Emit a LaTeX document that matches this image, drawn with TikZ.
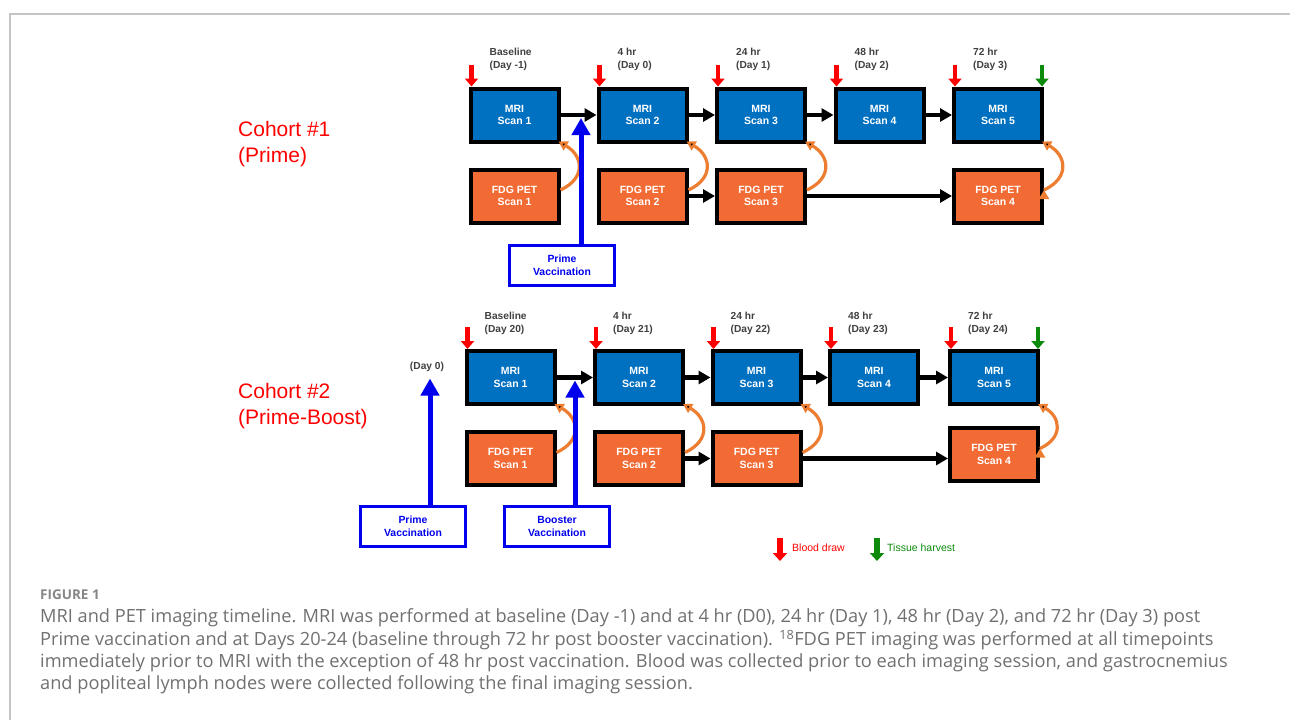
\documentclass[tikz,border=0pt]{standalone}
\usepackage{fontspec}
\setmainfont{Liberation Sans}
\newfontfamily\captionfont{Open Sans}
\usetikzlibrary{positioning, arrows.meta}

\definecolor{mriblue}{HTML}{0070C0}
\definecolor{petorange}{HTML}{F26B35}
\definecolor{curveorange}{HTML}{ED7D31}
\definecolor{vblue}{HTML}{0000EE}
\definecolor{labelgray}{HTML}{404040}
\definecolor{harvgreen}{HTML}{0B8A0B}
\definecolor{framegray}{HTML}{C4C4C4}
\definecolor{capgray}{HTML}{707070}

\begin{document}
\begin{tikzpicture}[x=1pt, y=-1pt, on grid]
                \tikzset{
                    mri/.style={draw=black, line width=4pt, fill=mriblue, text=white, align=center,
                        minimum width=88pt, minimum height=53pt, inner sep=0pt,
                        font=\bfseries\fontsize{10.5}{12.5}\selectfont},
                    pet/.style={mri, fill=petorange},
                    vacc/.style={draw=vblue, line width=3pt, fill=white, text=vblue, align=center,
                        minimum width=105pt, minimum height=40pt, inner sep=0pt,
                        font=\bfseries\fontsize{10.4}{13}\selectfont},
                    tlabel/.style={anchor=west, align=left, inner sep=0pt, text=labelgray,
                        font=\bfseries\fontsize{10.2}{13}\selectfont},
                    cohort/.style={anchor=west, align=left, inner sep=0pt, text=red,
                        font=\fontsize{21}{26}\selectfont},
                    flow/.style={line width=4.5pt, -{Triangle[length=12pt,width=13pt]}},
                    curv/.style={draw=curveorange, line width=3.2pt, -{Triangle[length=9pt,width=10pt]}},
                    vaccarrow/.style={draw=vblue, line width=5pt, -{Triangle[length=17pt,width=18pt]}},
                    blood/.style={draw=red, line width=4.5pt, -{Triangle[length=8pt,width=13pt]}},
                    harvest/.style={blood, draw=harvgreen},
                    legtxt/.style={anchor=west, inner sep=0pt, font=\fontsize{10.5}{12}\selectfont},
                    captxt/.style={anchor=west, inner sep=0pt, text=capgray,
                        font=\captionfont\fontsize{18.2}{20}\selectfont}
                }
                \useasboundingbox (0,0) rectangle (1290,720);

                % FRAME
                \draw[framegray, line width=2pt] (1290,14) -- (9.5,14) -- (9.5,720);

                % COHORT 1
                \node[cohort] (c1) at (238,144) {Cohort \#1\\(Prime)};

                \node[mri] (m11) at (514.5,115) {MRI\\Scan 1};
                \node[mri] (m12) [right=128pt of m11] {MRI\\Scan 2};
                \node[mri] (m13) [right=118.5pt of m12] {MRI\\Scan 3};
                \node[mri] (m14) [right=118.5pt of m13] {MRI\\Scan 4};
                \node[mri] (m15) [right=118.5pt of m14] {MRI\\Scan 5};

                \node[pet] (f11) [below=81pt of m11] {FDG PET\\Scan 1};
                \node[pet] (f12) [below=81pt of m12] {FDG PET\\Scan 2};
                \node[pet] (f13) [below=81pt of m13] {FDG PET\\Scan 3};
                \node[pet] (f14) [below=81pt of m15] {FDG PET\\Scan 4};

                \node[tlabel] (t11) at ([xshift=21pt, yshift=27pt]m11.north west) {Baseline\\(Day -1)};
                \node[tlabel] (t12) at ([xshift=21pt, yshift=27pt]m12.north west) {4 hr\\(Day 0)};
                \node[tlabel] (t13) at ([xshift=21pt, yshift=27pt]m13.north west) {24 hr\\(Day 1)};
                \node[tlabel] (t14) at ([xshift=21pt, yshift=27pt]m14.north west) {48 hr\\(Day 2)};
                \node[tlabel] (t15) at ([xshift=21pt, yshift=27pt]m15.north west) {72 hr\\(Day 3)};

                \node[vacc] (pv1) at (562,265.5) {Prime\\Vaccination};

                % COHORT 1 - TRANSITIONS
                \path[flow]
                    (m11) edge (m12)
                    (m12) edge (m13)
                    (m13) edge (m14)
                    (m14) edge (m15)
                    (f12) edge (f13)
                    (f13) edge (f14);
                \path[curv]
                    ([yshift=6pt]f11.east) edge[out=25, in=-30, looseness=1.5] ([xshift=-2pt, yshift=2pt]m11.south east)
                    ([yshift=6pt]f12.east) edge[out=25, in=-30, looseness=1.5] ([xshift=-2pt, yshift=2pt]m12.south east)
                    ([yshift=6pt]f13.east) edge[out=25, in=-30, looseness=1.5] ([xshift=-2pt, yshift=2pt]m13.south east)
                    ([yshift=6pt]f14.east) edge[out=25, in=-30, looseness=1.5] ([xshift=-2pt, yshift=2pt]m15.south east);
                \draw[vaccarrow] ([xshift=19pt]pv1.north) -- ++(0,-126);

                \draw[blood] ([xshift=3pt, yshift=22pt]m11.north west) -- ([xshift=3pt]m11.north west);
                \draw[blood] ([xshift=3pt, yshift=22pt]m12.north west) -- ([xshift=3pt]m12.north west);
                \draw[blood] ([xshift=3pt, yshift=22pt]m13.north west) -- ([xshift=3pt]m13.north west);
                \draw[blood] ([xshift=3pt, yshift=22pt]m14.north west) -- ([xshift=3pt]m14.north west);
                \draw[blood] ([xshift=3pt, yshift=22pt]m15.north west) -- ([xshift=3pt]m15.north west);
                \draw[harvest] ([xshift=-2pt, yshift=22pt]m15.north east) -- ([xshift=-2pt]m15.north east);

                % COHORT 2
                \node[cohort] (c2) at (238,406.5) {Cohort \#2\\(Prime-Boost)};

                \node[mri] (m21) at (510.5,377.5) {MRI\\Scan 1};
                \node[mri] (m22) [right=128.5pt of m21] {MRI\\Scan 2};
                \node[mri] (m23) [right=117.5pt of m22] {MRI\\Scan 3};
                \node[mri] (m24) [right=117.5pt of m23] {MRI\\Scan 4};
                \node[mri] (m25) [right=120pt of m24] {MRI\\Scan 5};

                \node[pet] (f21) [below=81pt of m21] {FDG PET\\Scan 1};
                \node[pet] (f22) [below=81pt of m22] {FDG PET\\Scan 2};
                \node[pet] (f23) [below=81pt of m23] {FDG PET\\Scan 3};
                \node[pet] (f24) [below=77pt of m25] {FDG PET\\Scan 4};

                \node[tlabel] (t21) at ([xshift=20pt, yshift=25.5pt]m21.north west) {Baseline\\(Day 20)};
                \node[tlabel] (t22) at ([xshift=20pt, yshift=25.5pt]m22.north west) {4 hr\\(Day 21)};
                \node[tlabel] (t23) at ([xshift=20pt, yshift=25.5pt]m23.north west) {24 hr\\(Day 22)};
                \node[tlabel] (t24) at ([xshift=20pt, yshift=25.5pt]m24.north west) {48 hr\\(Day 23)};
                \node[tlabel] (t25) at ([xshift=20pt, yshift=25.5pt]m25.north west) {72 hr\\(Day 24)};

                \node[vacc] (pv2) at (413,526) {Prime\\Vaccination};
                \node[vacc] (bv2) at (557,526) {Booster\\Vaccination};
                \node[tlabel, anchor=center] (d0) at (427,367) {(Day 0)};

                % COHORT 2 - TRANSITIONS
                \path[flow]
                    (m21) edge (m22)
                    (m22) edge (m23)
                    (m23) edge (m24)
                    (m24) edge (m25)
                    (f22) edge (f23)
                    (f23) edge (f23 -| f24.west);
                \path[curv]
                    ([yshift=6pt]f21.east) edge[out=25, in=-30, looseness=1.5] ([xshift=-2pt, yshift=2pt]m21.south east)
                    ([yshift=6pt]f22.east) edge[out=25, in=-30, looseness=1.5] ([xshift=-2pt, yshift=2pt]m22.south east)
                    ([yshift=6pt]f23.east) edge[out=25, in=-30, looseness=1.5] ([xshift=-2pt, yshift=2pt]m23.south east)
                    ([yshift=6pt]f24.east) edge[out=25, in=-30, looseness=1.5] ([xshift=-2pt, yshift=2pt]m25.south east);
                \draw[vaccarrow] ([xshift=17pt]pv2.north) -- ++(0,-126);
                \draw[vaccarrow] ([xshift=18pt]bv2.north) -- ++(0,-124);

                \draw[blood] ([xshift=3pt, yshift=22pt]m21.north west) -- ([xshift=3pt]m21.north west);
                \draw[blood] ([xshift=3pt, yshift=22pt]m22.north west) -- ([xshift=3pt]m22.north west);
                \draw[blood] ([xshift=3pt, yshift=22pt]m23.north west) -- ([xshift=3pt]m23.north west);
                \draw[blood] ([xshift=3pt, yshift=22pt]m24.north west) -- ([xshift=3pt]m24.north west);
                \draw[blood] ([xshift=3pt, yshift=22pt]m25.north west) -- ([xshift=3pt]m25.north west);
                \draw[harvest] ([xshift=-2pt, yshift=22pt]m25.north east) -- ([xshift=-2pt]m25.north east);

                % LEGEND
                \coordinate (lb) at (780,538);
                \coordinate (lh) at (877,538);
                \draw[blood, line width=6pt, -{Triangle[length=8pt,width=14pt]}] (lb) -- ++(0,23);
                \draw[harvest, line width=6pt, -{Triangle[length=8pt,width=14pt]}] (lh) -- ++(0,23);
                \node[legtxt, text=red] (lbt) at (792,548) {Blood draw};
                \node[legtxt, text=harvgreen] (lht) at (887,548) {Tissue harvest};

                % CAPTION
                \node[anchor=west, inner sep=0pt, text=gray!95, font=\captionfont\bfseries\fontsize{13.5}{15}\selectfont] (fig) at (40,595) {FIGURE 1};
                \node[captxt] (cap1) at (40,617.5) {MRI and PET imaging timeline. MRI was performed at baseline (Day -1) and at 4 hr (D0), 24 hr (Day 1), 48 hr (Day 2), and 72 hr (Day 3) post};
                \node[captxt] (cap2) at (40,640) {Prime vaccination and at Days 20-24 (baseline through 72 hr post booster vaccination). \textsuperscript{18}FDG PET imaging was performed at all timepoints};
                \node[captxt] (cap3) at (40,662.5) {immediately prior to MRI with the exception of 48 hr post vaccination. Blood was collected prior to each imaging session, and gastrocnemius};
                \node[captxt] (cap4) at (40,685) {and popliteal lymph nodes were collected following the final imaging session.};

            \end{tikzpicture}
\end{document}
